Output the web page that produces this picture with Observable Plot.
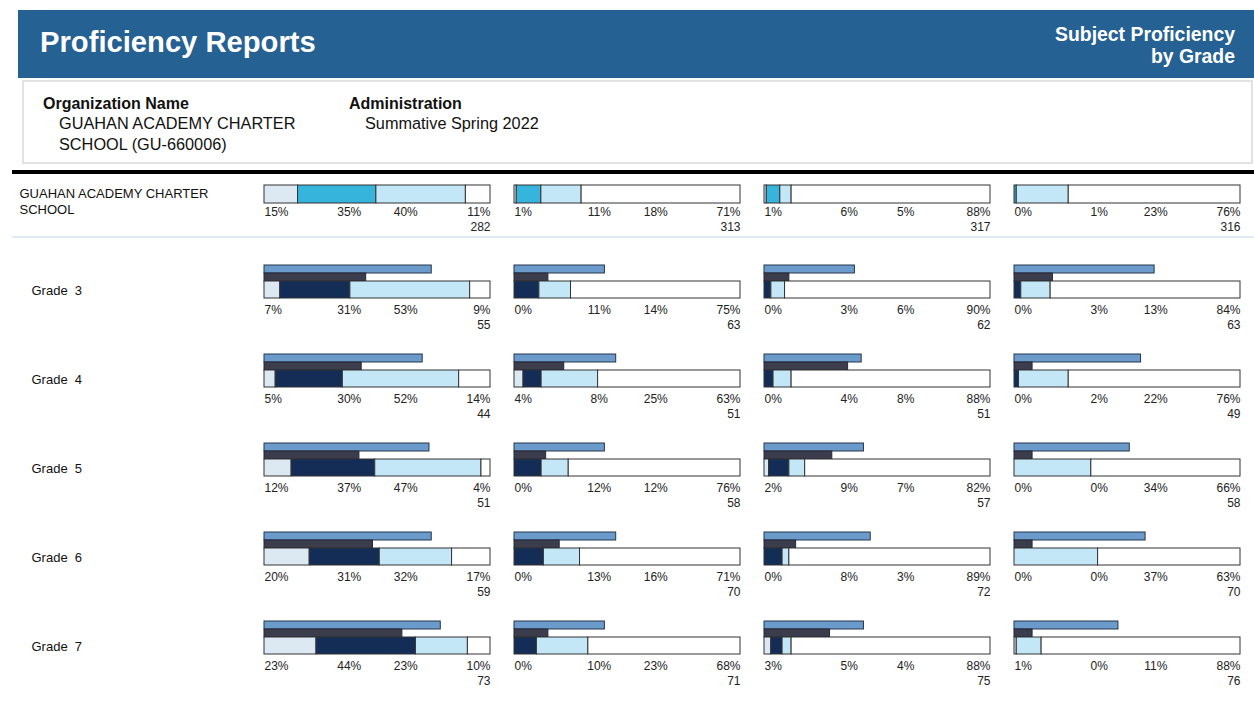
<!DOCTYPE html>
<html>
<head>
<meta charset="utf-8">
<script src="https://cdn.jsdelivr.net/npm/d3@7"></script>
<script src="https://cdn.jsdelivr.net/npm/@observablehq/plot@0.6"></script>
<style>
  html, body { margin: 0; padding: 0; background: #fff; overflow: hidden; }
  body { width: 1254px; height: 713px; position: relative; font-family: "Liberation Sans", Arial, Helvetica, sans-serif; color: #111; }
  #banner { position: absolute; left: 18px; top: 10px; width: 1236px; height: 68px; background: #256192; color: #fff; }
  #banner h1 { position: absolute; left: 22px; top: 15px; margin: 0; font-size: 29.2px; font-weight: bold; line-height: 34px; }
  #banner .sub { position: absolute; right: 19px; top: 13px; text-align: right; font-size: 19.4px; font-weight: bold; line-height: 22px; }
  #org { position: absolute; left: 22px; top: 80px; width: 1231px; height: 84px; box-sizing: border-box; border: 2px solid #e2e2e2; }
  .lab { position: absolute; font-size: 16px; font-weight: bold; line-height: 20px; }
  .val { position: absolute; font-size: 16.3px; line-height: 21px; }
  #thick { position: absolute; left: 12px; top: 170px; width: 1242px; height: 4px; background: #000; }
  #thin { position: absolute; left: 12px; top: 236px; width: 1242px; height: 2px; background: #dcebf6; }
  #school { position: absolute; left: 0; top: 174px; }
  #grades { position: absolute; left: 0; top: 262px; }
  svg { display: block; }
</style>
</head>
<body>
<div id="banner">
  <h1>Proficiency Reports</h1>
  <div class="sub">Subject Proficiency<br>by Grade</div>
</div>
<div id="org">
  <div class="lab" style="left:19px;top:12px">Organization Name</div>
  <div class="val" style="left:35px;top:31px">GUAHAN ACADEMY CHARTER<br>SCHOOL (GU-660006)</div>
  <div class="lab" style="left:325px;top:12px">Administration</div>
  <div class="val" style="left:341px;top:31px">Summative Spring 2022</div>
</div>
<div id="thick"></div>
<div id="school"></div>
<div id="thin"></div>
<div id="grades"></div>
<script>
// ---------------- DATA ----------------
const subjects = ["Subject 1", "Subject 2", "Subject 3", "Subject 4"];
const levels = ["Level 1", "Level 2", "Level 3", "Level 4"];
const schoolName = "GUAHAN ACADEMY CHARTER SCHOOL";
const grades = ["Grade 3", "Grade 4", "Grade 5", "Grade 6", "Grade 7"];

// school: [subject][level] percent
const schoolPct = [[15, 35, 40, 11], [1, 11, 18, 71], [1, 6, 5, 88], [0, 1, 23, 76]];
const schoolN = [282, 313, 317, 316];

// grades: [grade][subject][level] percent
const gradePct = [
  [[7, 31, 53, 9], [0, 11, 14, 75], [0, 3, 6, 90], [0, 3, 13, 84]],
  [[5, 30, 52, 14], [4, 8, 25, 63], [0, 4, 8, 88], [0, 2, 22, 76]],
  [[12, 37, 47, 4], [0, 12, 12, 76], [2, 9, 7, 82], [0, 0, 34, 66]],
  [[20, 31, 32, 17], [0, 13, 16, 71], [0, 8, 3, 89], [0, 0, 37, 63]],
  [[23, 44, 23, 10], [0, 10, 23, 68], [3, 5, 4, 88], [1, 0, 11, 88]]
];
const gradeN = [[55, 63, 62, 63], [44, 51, 51, 49], [51, 58, 57, 58], [59, 70, 72, 70], [73, 71, 75, 76]];
// comparison bars above each grade bar (percent of full width, estimated)
const compareBlue = [[74, 40, 40, 62], [70, 45, 43, 56], [73, 40, 44, 51], [74, 45, 47, 58], [78, 40, 44, 46]];
const compareDark = [[45, 15, 11, 17], [43, 22, 37, 8], [42, 14, 30, 8], [48, 20, 14, 8], [61, 15, 29, 8]];

// ---------------- STYLE / LAYOUT ----------------
const FONT = '"Liberation Sans", Arial, Helvetica, sans-serif';
const schoolColors = ["#dde9f2", "#36b4dc", "#c3e7f7", "#ffffff"];
const gradeColors = ["#dde9f2", "#132d56", "#c3e7f7", "#ffffff"];
const labelAnchor = [0, 0.375, 0.625, 1];   // label anchor positions inside a bar (fraction of width)
const schoolLayout = {H: 62, main: [11, 29], pct: 38, n: 53, label: 26, labelDx: -245};
const gradeLayout = {H: 89, blue: [3, 11], dark: [11, 19], main: [19, 36], pct: 48, n: 63, label: 27.5, labelDx: -233};

function segRecords(row, pcts) {
  return subjects.flatMap((s, j) => levels.map((l, k) => ({row, subject: s, level: l, k, value: pcts[j][k]})));
}

function buildPlot(rows, seg, cells, cmp, L, colors, labelText) {
  const marks = [];
  if (cmp) {
    marks.push(Plot.rectX(cmp, {fx: "subject", fy: "row", x1: () => 0, x2: d => d.blue / 100,
      y1: () => L.blue[0], y2: () => L.blue[1], fill: "#6b9bcb", stroke: "#26364c", strokeWidth: 1}));
    marks.push(Plot.rectX(cmp, {fx: "subject", fy: "row", x1: () => 0, x2: d => d.dark / 100,
      y1: () => L.dark[0], y2: () => L.dark[1], fill: "#3b3d4c", stroke: "#26283a", strokeWidth: 1}));
  }
  marks.push(Plot.rectX(seg, Plot.stackX({offset: "normalize"}, {
    fx: "subject", fy: "row", x: "value", y1: () => L.main[0], y2: () => L.main[1],
    fill: "level", stroke: "#333", strokeWidth: 1
  })));
  const txt = {fx: "subject", fy: "row", y: () => L.pct, x: d => labelAnchor[d.k], text: d => d.value + "%",
    fontSize: 12, fill: "#222"};
  marks.push(Plot.text(seg.filter(d => d.k === 0), {...txt, textAnchor: "start"}));
  marks.push(Plot.text(seg.filter(d => d.k === 1 || d.k === 2), {...txt, textAnchor: "middle"}));
  marks.push(Plot.text(seg.filter(d => d.k === 3), {...txt, textAnchor: "end"}));
  marks.push(Plot.text(cells, {fx: "subject", fy: "row", x: () => 1, y: () => L.n, text: d => String(d.n),
    textAnchor: "end", fontSize: 12, fill: "#222"}));
  marks.push(Plot.text(rows.map(r => ({row: r, subject: subjects[0]})), {fx: "subject", fy: "row",
    x: () => 0, y: () => L.label, dx: L.labelDx, text: d => labelText(d.row), textAnchor: "start",
    fontSize: 13, lineHeight: 1.25, fill: "#111"}));
  return Plot.plot({
    width: 1254,
    height: L.H * rows.length,
    marginLeft: 264, marginRight: 14, marginTop: 0, marginBottom: 0,
    style: {fontFamily: FONT, background: "transparent"},
    fx: {domain: subjects, paddingInner: 24 / 250, paddingOuter: 0, axis: null, round: false},
    fy: {domain: rows, padding: 0, axis: null, round: false},
    x: {domain: [0, 1], axis: null},
    y: {domain: [0, L.H], reverse: true, axis: null},
    color: {domain: levels, range: colors},
    marks
  });
}

// school row
const schoolSeg = segRecords(schoolName, schoolPct);
const schoolCells = subjects.map((s, j) => ({row: schoolName, subject: s, n: schoolN[j]}));
document.getElementById("school").append(
  buildPlot([schoolName], schoolSeg, schoolCells, null, schoolLayout, schoolColors,
    r => r.replace(" SCHOOL", "\nSCHOOL"))
);

// grade rows
const gradeSeg = grades.flatMap((g, i) => segRecords(g, gradePct[i]));
const gradeCells = grades.flatMap((g, i) => subjects.map((s, j) => ({row: g, subject: s, n: gradeN[i][j]})));
const gradeCmp = grades.flatMap((g, i) => subjects.map((s, j) => ({row: g, subject: s, blue: compareBlue[i][j], dark: compareDark[i][j]})));
document.getElementById("grades").append(
  buildPlot(grades, gradeSeg, gradeCells, gradeCmp, gradeLayout, gradeColors,
    r => r.replace(" ", "\u00a0\u00a0"))
);
</script>
</body>
</html>
